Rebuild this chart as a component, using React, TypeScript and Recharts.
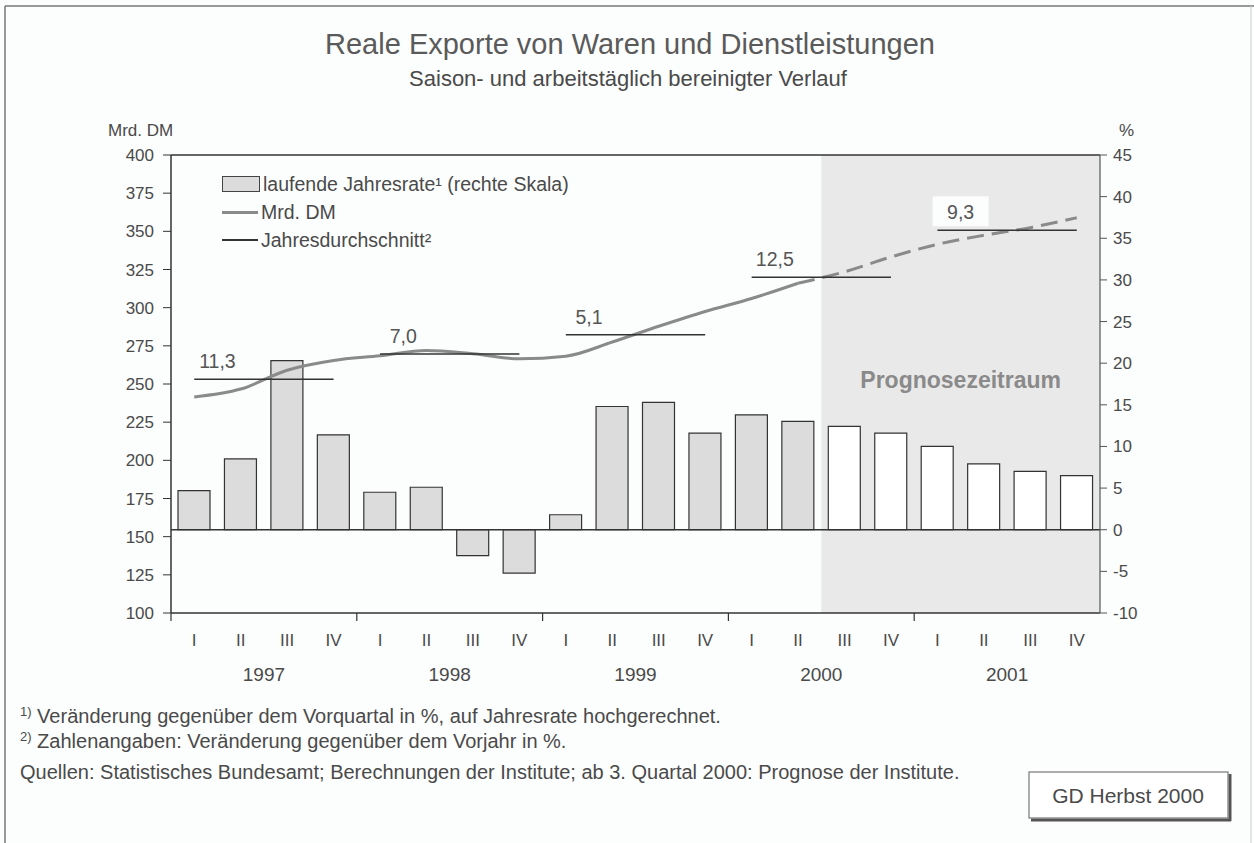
import React from "react"
import {
  ComposedChart,
  Bar,
  Line,
  Cell,
  XAxis,
  YAxis,
  ReferenceArea,
  ReferenceLine,
} from "recharts"

const QUARTERS = ["I", "II", "III", "IV"]
const YEARS = ["1997", "1998", "1999", "2000", "2001"]

// laufende Jahresrate in % (rechte Skala), 1997 I .. 2001 IV
const annualRate = [4.7, 8.5, 20.3, 11.4, 4.5, 5.1, -3.1, -5.2, 1.8, 14.8, 15.3, 11.6, 13.8, 13.0, 12.4, 11.6, 10.0, 7.9, 7.0, 6.5]
// Mrd. DM, Ist-Werte 1997 I .. 2000 II
const levelActual = [241.5, 246.7, 259.0, 265.4, 268.5, 272.0, 269.8, 266.5, 268.2, 277.5, 287.8, 297.5, 306.0, 316.0]
// Mrd. DM, Prognose 2000 II .. 2001 IV
const levelForecast = [316.0, 323.5, 333.2, 341.5, 347.4, 352.4, 358.9]
// Jahresdurchschnitt (Mrd. DM) und Veraenderung ggue. Vorjahr
const yearAverage = [253.1, 269.6, 282.2, 320.0, 350.7]
const yearGrowth = ["11,3", "7,0", "5,1", "12,5", "9,3"]

const leftTicks = [100, 125, 150, 175, 200, 225, 250, 275, 300, 325, 350, 375, 400]
const rightTicks = [-10, -5, 0, 5, 10, 15, 20, 25, 30, 35, 40, 45]

const FORECAST_START = 14 // 2000 III

const rows = YEARS.flatMap((year, yi) =>
  QUARTERS.map((q, qi) => {
    const i = yi * 4 + qi
    return {
      key: `${year}-${q}`,
      year,
      rate: annualRate[i],
      actual: i < levelActual.length ? levelActual[i] : null,
      forecast: i >= FORECAST_START - 1 ? levelForecast[i - (FORECAST_START - 1)] : null,
    }
  })
)

const FONT = '"Liberation Sans", Arial, Helvetica, sans-serif'
const TEXT = "#4a4a4a"
const LINE_GREY = "#8a8a8a"
const DARK = "#333333"

// quarter label, plus a tick mark at the start of each year
const QuarterTick = (props: any) => {
  const { x, y, payload, width, visibleTicksCount } = props
  const q = String(payload.value).split("-")[1]
  const half = payload.offset || width / visibleTicksCount / 2
  return (
    <g>
      {q === "I" && <line x1={x - half} y1={y} x2={x - half} y2={y + 8} stroke={DARK} strokeWidth={1.2} />}
      <text x={x} y={y} dy={33} textAnchor="middle" fill={TEXT} fontSize={17} fontFamily={FONT}>
        {q}
      </text>
    </g>
  )
}

const YearTick = (props: any) => {
  const { x, y, payload } = props
  return (
    <text x={x} y={y} dy={34} textAnchor="middle" fill={TEXT} fontSize={19} fontFamily={FONT}>
      {payload.value}
    </text>
  )
}

const avgLabel = (text: string, boxed: boolean) => (props: any) => {
  const vb = props.viewBox
  if (!vb) return null
  const cx = vb.x + vb.width / 6
  const by = vb.y - 11
  return (
    <g>
      {boxed && <rect x={cx - 28} y={by - 23} width={56} height={30} fill="#fcfdfd" />}
      <text x={cx} y={by} textAnchor="middle" fontSize={19.5} fill="#555" fontFamily={FONT}>
        {text}
      </text>
    </g>
  )
}

const forecastLabel = (props: any) => {
  const vb = props.viewBox
  if (!vb) return null
  return (
    <text
      x={vb.x + vb.width / 2}
      y={vb.y + 233}
      textAnchor="middle"
      fontSize={23}
      fontWeight="bold"
      fill="#8a8a8a"
      fontFamily={FONT}
    >
      Prognosezeitraum
    </text>
  )
}

const LegendBox = () => (
  <div style={{ position: "absolute", top: 170, left: 222, fontFamily: FONT, fontSize: 19.5, color: TEXT, lineHeight: "28px" }}>
    <div style={{ display: "flex", alignItems: "center", height: 28 }}>
      <span style={{ display: "inline-block", width: 36, height: 14, background: "#dcdcdc", border: "1px solid #444", marginRight: 3 }} />
      laufende Jahresrate¹ (rechte Skala)
    </div>
    <div style={{ display: "flex", alignItems: "center", height: 28 }}>
      <span style={{ display: "inline-block", width: 36, height: 3, background: LINE_GREY, marginRight: 3 }} />
      Mrd. DM
    </div>
    <div style={{ display: "flex", alignItems: "center", height: 28 }}>
      <span style={{ display: "inline-block", width: 36, height: 1.5, background: DARK, marginRight: 3 }} />
      Jahresdurchschnitt²
    </div>
  </div>
)

export default function App() {
  return (
    <div style={{ position: "absolute", left: 0, top: 0, width: 1254, height: 843, background: "#fcfdfd", fontFamily: FONT }}>
      <div style={{ position: "absolute", left: 0, top: 0 }}>
        <ComposedChart width={1254} height={720} data={rows} margin={{ top: 154, right: 94, bottom: 33, left: 101 }}>
          <ReferenceArea
            xAxisId="q"
            yAxisId="left"
            x1="2000-III"
            x2="2001-IV"
            fill="#e9e9e9"
            fillOpacity={1}
            stroke="none"
            ifOverflow="visible"
            label={forecastLabel}
          />
          <XAxis xAxisId="top" orientation="top" dataKey="key" height={1} tick={false} tickLine={false} axisLine={{ stroke: DARK, strokeWidth: 1.5 }} />
          <XAxis
            xAxisId="q"
            dataKey="key"
            height={34}
            interval={0}
            tickSize={0}
            tickMargin={0}
            tickLine={false}
            axisLine={{ stroke: DARK, strokeWidth: 1.5 }}
            tick={QuarterTick}
          />
          <XAxis
            xAxisId="year"
            dataKey="year"
            allowDuplicatedCategory={false}
            height={40}
            interval={0}
            tickSize={0}
            tickMargin={0}
            tickLine={false}
            axisLine={false}
            tick={YearTick}
          />
          <YAxis
            yAxisId="left"
            orientation="left"
            domain={[100, 400]}
            ticks={leftTicks}
            allowDataOverflow
            width={70}
            tickSize={8}
            tickMargin={9}
            axisLine={{ stroke: DARK, strokeWidth: 1.5 }}
            tickLine={{ stroke: DARK }}
            tick={{ fill: TEXT, fontSize: 17, fontFamily: FONT }}
          />
          <YAxis
            yAxisId="right"
            orientation="right"
            domain={[-10, 45]}
            ticks={rightTicks}
            allowDataOverflow
            width={60}
            tickSize={7}
            tickMargin={6}
            axisLine={{ stroke: "#555", strokeWidth: 1.2 }}
            tickLine={{ stroke: "#555" }}
            tick={{ fill: TEXT, fontSize: 17, fontFamily: FONT }}
          />
          <Bar xAxisId="q" yAxisId="right" dataKey="rate" barSize={32} stroke={DARK} strokeWidth={1.2} isAnimationActive={false}>
            {rows.map((r, i) => (
              <Cell key={r.key} fill={i >= FORECAST_START ? "#ffffff" : "#dcdcdc"} />
            ))}
          </Bar>
          <ReferenceLine xAxisId="q" yAxisId="right" y={0} stroke={DARK} strokeWidth={1.3} />
          <Line
            xAxisId="q"
            yAxisId="left"
            type="monotone"
            dataKey="actual"
            stroke={LINE_GREY}
            strokeWidth={3}
            dot={false}
            connectNulls={false}
            isAnimationActive={false}
          />
          <Line
            xAxisId="q"
            yAxisId="left"
            type="monotone"
            dataKey="forecast"
            stroke={LINE_GREY}
            strokeWidth={3}
            strokeDasharray="17 8"
            dot={false}
            connectNulls={false}
            isAnimationActive={false}
          />
          {YEARS.map((year, yi) => (
            <ReferenceLine
              key={year}
              xAxisId="q"
              yAxisId="left"
              segment={[
                { x: `${year}-I`, y: yearAverage[yi] },
                { x: `${year}-IV`, y: yearAverage[yi] },
              ]}
              stroke={DARK}
              strokeWidth={1.5}
              label={avgLabel(yearGrowth[yi], yi === YEARS.length - 1)}
            />
          ))}
        </ComposedChart>
      </div>
      <LegendBox />
      <svg width={1254} height={843} style={{ position: "absolute", left: 0, top: 0, pointerEvents: "none" }}>
        <line x1={5} y1={6} x2={1254} y2={6} stroke="#777" strokeWidth={1.5} />
        <line x1={5} y1={6} x2={5} y2={843} stroke="#777" strokeWidth={1.5} />
        <line x1={1251} y1={6} x2={1251} y2={843} stroke="#ccc" strokeWidth={1} />
        <text x={630} y={54} textAnchor="middle" fontSize={29} fill="#5a5a5a" fontFamily={FONT}>
          Reale Exporte von Waren und Dienstleistungen
        </text>
        <text x={628} y={86} textAnchor="middle" fontSize={22} fill={TEXT} fontFamily={FONT}>
          Saison- und arbeitstäglich bereinigter Verlauf
        </text>
        <text x={108} y={136} fontSize={17} fill={TEXT} fontFamily={FONT}>
          Mrd. DM
        </text>
        <text x={1119} y={136} fontSize={17} fill={TEXT} fontFamily={FONT}>
          %
        </text>
        <text x={20} y={723} fontSize={20} fill={TEXT} fontFamily={FONT}>
          <tspan fontSize={13} dy={-7}>1)</tspan>
          <tspan dy={7}> Veränderung gegenüber dem Vorquartal in %, auf Jahresrate hochgerechnet.</tspan>
        </text>
        <text x={20} y={748} fontSize={20} fill={TEXT} fontFamily={FONT}>
          <tspan fontSize={13} dy={-7}>2)</tspan>
          <tspan dy={7}> Zahlenangaben: Veränderung gegenüber dem Vorjahr in %.</tspan>
        </text>
        <text x={20} y={779} fontSize={20} fill={TEXT} fontFamily={FONT}>
          Quellen: Statistisches Bundesamt; Berechnungen der Institute; ab 3. Quartal 2000: Prognose der Institute.
        </text>
        <line x1={1031} y1={820} x2={1231} y2={820} stroke="#555" strokeWidth={3} />
        <line x1={1230} y1={774} x2={1230} y2={821} stroke="#555" strokeWidth={3} />
        <rect x={1029} y={772} width={199} height={46} fill="#ffffff" stroke="#777" strokeWidth={1.2} />
        <text x={1128} y={803} textAnchor="middle" fontSize={21} fill={TEXT} fontFamily={FONT}>
          GD Herbst 2000
        </text>
      </svg>
    </div>
  )
}
